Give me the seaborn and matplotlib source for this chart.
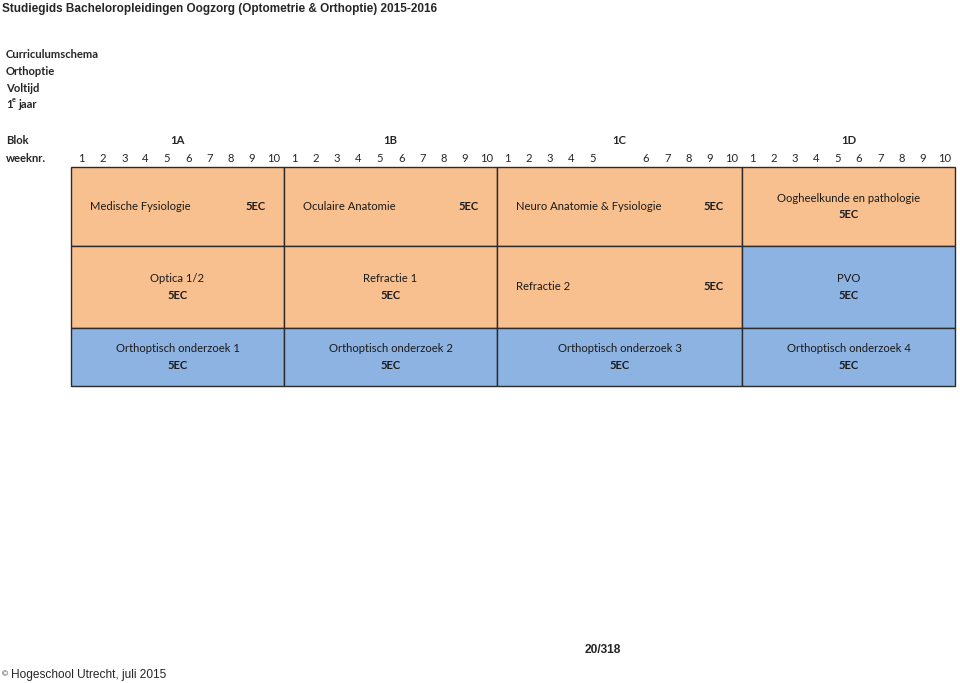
"""Curriculum schedule for Orthoptie year 1, drawn as a block/week grid."""
import matplotlib

matplotlib.use("Agg")
import matplotlib.pyplot as plt
import seaborn as sns

TITLE = "Studiegids Bacheloropleidingen Oogzorg (Optometrie & Orthoptie) 2015-2016"
HEADER_LINES = ["Curriculumschema", "Orthoptie", "Voltijd"]
FOOTER = "Hogeschool Utrecht, juli 2015"
PAGE = "20/318"

BLOCKS = ["1A", "1B", "1C", "1D"]
# week numbers per block, None is the holiday break in 1C
BLOCK_WEEKS = [
    [1, 2, 3, 4, 5, 6, 7, 8, 9, 10],
    [1, 2, 3, 4, 5, 6, 7, 8, 9, 10],
    [1, 2, 3, 4, 5, None, 6, 7, 8, 9, 10],
    [1, 2, 3, 4, 5, 6, 7, 8, 9, 10],
]

# one course per block in each row
ROW1_COURSES = ["Medische Fysiologie", "Oculaire Anatomie",
                "Neuro Anatomie & Fysiologie", "Oogheelkunde en pathologie"]
ROW2_COURSES = ["Optica 1/2", "Refractie 1", "Refractie 2", "PVO"]
ROW3_COURSES = ["Orthoptisch onderzoek 1", "Orthoptisch onderzoek 2",
                "Orthoptisch onderzoek 3", "Orthoptisch onderzoek 4"]
ROW1_EC = [5, 5, 5, 5]
ROW2_EC = [5, 5, 5, 5]
ROW3_EC = [5, 5, 5, 5]
ROW1_TYPE = ["theorie", "theorie", "theorie", "theorie"]
ROW2_TYPE = ["theorie", "theorie", "theorie", "praktijk"]
ROW3_TYPE = ["praktijk", "praktijk", "praktijk", "praktijk"]

# --- layout / style ---
W, H = 960, 683
PX_PER_WEEK = 21.3
ORIGIN_PX = 81.65          # pixel x of week slot 0
HOLIDAY_SLOTS = 1.5
ROW_TOPS = [167, 246, 328]
ROW_HEIGHTS = [79, 82, 58]
COLORS = {"theorie": "#F9C08F", "praktijk": "#8DB3E2"}
INLINE = {"Medische Fysiologie", "Oculaire Anatomie",
          "Neuro Anatomie & Fysiologie", "Refractie 2"}
FONT = ["Lato", "DejaVu Sans"]
ARIAL = ["Liberation Sans", "DejaVu Sans"]
FS = 8.1


def week_slots():
    slots, s = [], 0.0
    for weeks in BLOCK_WEEKS:
        block = []
        for w in weeks:
            if w is None:
                s += HOLIDAY_SLOTS
                continue
            block.append((s, w))
            s += 1
        slots.append(block)
    return slots


def main():
    sns.set_theme(style="white")
    plt.rcParams["font.family"] = FONT

    fig = plt.figure(figsize=(W / 100, H / 100), dpi=100)
    ax = fig.add_axes([0, 0, 1, 1])
    ax.set_xlim(-ORIGIN_PX / PX_PER_WEEK, (W - ORIGIN_PX) / PX_PER_WEEK)
    ax.set_ylim(H, 0)
    ax.axis("off")

    def fx(px):
        return px / W

    def fy(py):
        return 1 - py / H

    fig.text(fx(2), fy(9), TITLE, fontsize=8.5, fontweight="bold",
             family=ARIAL, va="center", ha="left")
    for i, line in enumerate(HEADER_LINES):
        fig.text(fx(6), fy(55 + 16.7 * i), line, fontsize=FS,
                 fontweight="bold", va="center")
    fig.text(fx(6), fy(105), "1", fontsize=FS, fontweight="bold", va="center")
    fig.text(fx(12), fy(100), "e", fontsize=5.2, fontweight="bold", va="center")
    fig.text(fx(18), fy(105), "jaar", fontsize=FS, fontweight="bold", va="center")

    fig.text(fx(6), fy(140), "Blok", fontsize=FS, fontweight="bold", va="center")
    fig.text(fx(6), fy(158), "weeknr.", fontsize=FS, fontweight="bold", va="center")

    slots = week_slots()
    spans = [(b[0][0] - 0.5, b[-1][0] + 0.5) for b in slots]

    for name, (x0, x1), block in zip(BLOCKS, spans, slots):
        ax.text((x0 + x1) / 2, 140, name, fontsize=FS, fontweight="bold",
                ha="center", va="center")
        for s, w in block:
            ax.text(s, 158, str(w), fontsize=FS, ha="center", va="center")

    rows = [
        (ROW1_COURSES, ROW1_EC, ROW1_TYPE),
        (ROW2_COURSES, ROW2_EC, ROW2_TYPE),
        (ROW3_COURSES, ROW3_EC, ROW3_TYPE),
    ]
    for (courses, ecs, kinds), top, h in zip(rows, ROW_TOPS, ROW_HEIGHTS):
        yc = top + h / 2
        ax.barh([yc] * len(courses), [x1 - x0 for x0, x1 in spans],
                left=[x0 for x0, _ in spans], height=h,
                color=[COLORS[k] for k in kinds],
                edgecolor="#2b2b2b", linewidth=1.0, zorder=1)
        for course, ec, (x0, x1) in zip(courses, ecs, spans):
            if course in INLINE:
                ax.text(x0 + 0.9, yc, course, fontsize=FS, ha="left",
                        va="center", color="#1a1a1a")
                ax.text(x1 - 0.85, yc, f"{ec}EC", fontsize=FS, ha="right",
                        va="center", fontweight="bold", color="#1a1a1a")
            else:
                xc = (x0 + x1) / 2
                ax.text(xc, yc - 8.5, course, fontsize=FS, ha="center",
                        va="center", color="#1a1a1a")
                ax.text(xc, yc + 8.5, f"{ec}EC", fontsize=FS, ha="center",
                        va="center", fontweight="bold", color="#1a1a1a")

    fig.text(fx(603), fy(650), PAGE, fontsize=8.6, fontweight="bold",
             family=ARIAL, ha="center", va="center")
    fig.text(fx(2), fy(675), "\u00a9", fontsize=6, family=ARIAL, va="center")
    fig.text(fx(11), fy(675), FOOTER, fontsize=8.6, family=ARIAL, va="center")

    fig.savefig("out.png", dpi=100, facecolor="white")
    plt.close(fig)


if __name__ == "__main__":
    main()
